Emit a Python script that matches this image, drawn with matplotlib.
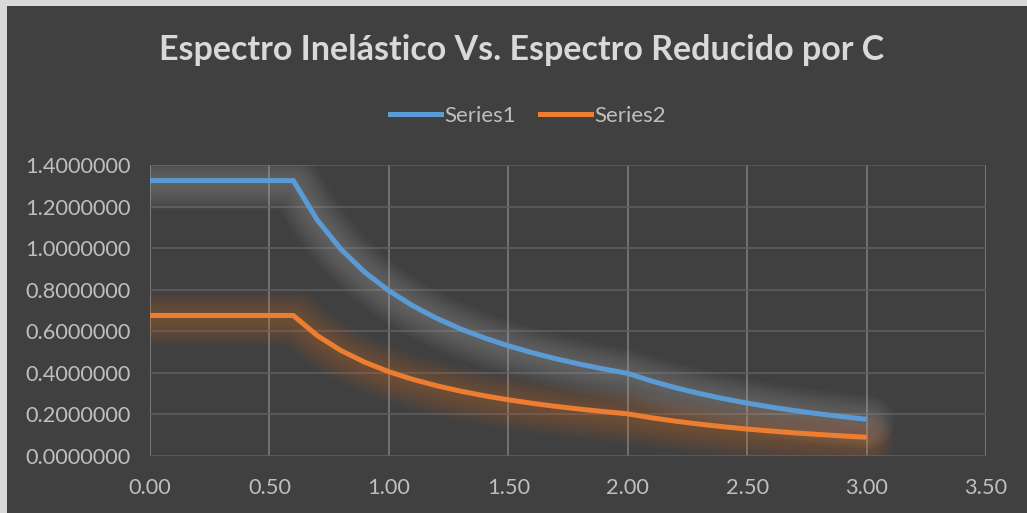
import matplotlib
matplotlib.use("Agg")
import matplotlib.pyplot as plt
from matplotlib import transforms
from matplotlib.patches import Rectangle
from matplotlib.lines import Line2D

# Period (s) and spectral ordinates
periods = [0.0, 0.1, 0.2, 0.3, 0.4, 0.5, 0.6, 0.7, 0.8, 0.9, 1.0,
           1.1, 1.2, 1.3, 1.4, 1.5, 1.6, 1.7, 1.8, 1.9, 2.0,
           2.1, 2.2, 2.3, 2.4, 2.5, 2.6, 2.7, 2.8, 2.9, 3.0]
series1 = [1.325, 1.325, 1.325, 1.325, 1.325, 1.325, 1.325, 1.1357, 0.9938, 0.8833, 0.7950,
           0.7227, 0.6625, 0.6115, 0.5679, 0.5300, 0.4969, 0.4676, 0.4417, 0.4184, 0.3975,
           0.3605, 0.3285, 0.3006, 0.2760, 0.2544, 0.2352, 0.2181, 0.2028, 0.1891, 0.1767]
series2 = [0.676, 0.676, 0.676, 0.676, 0.676, 0.676, 0.676, 0.5794, 0.5070, 0.4507, 0.4056,
           0.3687, 0.3380, 0.3120, 0.2897, 0.2704, 0.2535, 0.2386, 0.2254, 0.2135, 0.2028,
           0.1839, 0.1676, 0.1534, 0.1408, 0.1298, 0.1200, 0.1113, 0.1035, 0.0965, 0.0902]
series_names = ["Series1", "Series2"]
title = "Espectro Inelástico Vs. Espectro Reducido por C"
x_ticks = [0.0, 0.5, 1.0, 1.5, 2.0, 2.5, 3.0, 3.5]
y_ticks = [0.0, 0.2, 0.4, 0.6, 0.8, 1.0, 1.2, 1.4]

BG = "#404040"
BLUE = "#5b9bd5"
ORANGE = "#ed7d31"
TICK_COLOR = "#bfbfbf"
FONT = ["Lato", "DejaVu Sans"]

W, H = 1027, 513
fig = plt.figure(figsize=(W / 100, H / 100), dpi=100, facecolor="#d9d9d9")
# dark chart card inside the light frame
fig.patches.append(Rectangle((7 / W, 0), 1 - 7 / W, 1 - 6 / H, transform=fig.transFigure,
                             facecolor=BG, edgecolor="none", zorder=-10))

ax = fig.add_axes([150 / W, 1 - 456 / H, 836 / W, 291 / H], zorder=1)
ax.set_facecolor(BG)
ax.set_xlim(0, 3.5)
ax.set_ylim(0, 1.4)
ax.set_xticks(x_ticks)
ax.set_yticks(y_ticks)
ax.set_xticklabels([f"{v:.2f}" for v in x_ticks])
ax.set_yticklabels([f"{v:.7f}" for v in y_ticks])
ax.tick_params(length=0, colors=TICK_COLOR, labelsize=15.7)
for lab in ax.get_xticklabels() + ax.get_yticklabels():
    lab.set_family(FONT)
ax.tick_params(axis="y", pad=14)
ax.tick_params(axis="x", pad=16)

for s in ax.spines.values():
    s.set_visible(False)
ax.grid(axis="y", color="#5e5e5e", linewidth=1.2, zorder=1)
ax.grid(axis="x", color="#7a7a7a", linewidth=1.2, zorder=1)
ax.axvline(3.5, color="#5e5e5e", linewidth=1.2, zorder=1)
ax.axvline(0.0, color="#7a7a7a", linewidth=1.2, zorder=1)

# soft glow beneath each curve
glow_shift = transforms.offset_copy(ax.transData, fig=fig, x=1.5, y=-3, units="dots")
for ys, gcol, a in [(series1, "#c0c0c0", 0.028), (series2, ORANGE, 0.026)]:
    for lw in range(6, 42, 3):
        ax.plot(periods, ys, color=gcol, linewidth=lw, alpha=a,
                solid_capstyle="round", solid_joinstyle="round",
                transform=glow_shift, zorder=2)

ax.plot(periods, series1, color=BLUE, linewidth=3.6, zorder=4,
        solid_capstyle="butt", solid_joinstyle="miter")
ax.plot(periods, series2, color=ORANGE, linewidth=3.6, zorder=4,
        solid_capstyle="butt", solid_joinstyle="miter")

fig.text(522 / W, 1 - 50 / H, title, ha="center", va="center", color="#d9d9d9",
         fontsize=24.5, fontweight="bold", family=FONT)

handles = [Line2D([], [], color=BLUE, linewidth=3.6),
           Line2D([], [], color=ORANGE, linewidth=3.6)]
leg = fig.legend(handles, series_names, loc="center", bbox_to_anchor=(528 / W, 1 - 116 / H),
                 ncol=2, frameon=False, handlelength=2.3, handletextpad=0.15,
                 columnspacing=1.1, prop={"family": FONT, "size": 16})
for t in leg.get_texts():
    t.set_color(TICK_COLOR)

fig.savefig("out.png", dpi=100, facecolor=fig.get_facecolor())
